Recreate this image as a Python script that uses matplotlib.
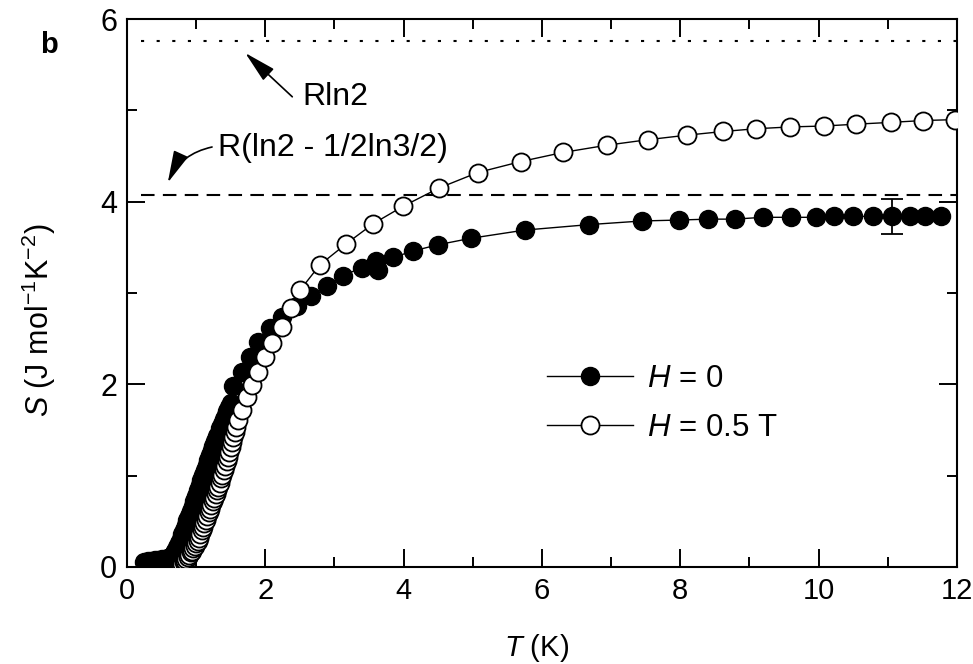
import numpy as np
import matplotlib
matplotlib.use('Agg')
import matplotlib.pyplot as plt

plt.rcParams['font.family'] = ['Liberation Sans', 'DejaVu Sans']
plt.rcParams['mathtext.fontset'] = 'custom'
plt.rcParams['mathtext.rm'] = 'Liberation Sans'
plt.rcParams['mathtext.it'] = 'Liberation Sans:italic'

# entropy S(T), H = 0
T_h0 = [0.25, 0.30, 0.35, 0.40, 0.45, 0.50, 0.55, 0.60, 0.625, 0.65,
        0.675, 0.70, 0.725, 0.75, 0.775, 0.80, 0.825, 0.85, 0.875, 0.90,
        0.925, 0.95, 0.975, 1.00, 1.025, 1.05, 1.075, 1.10, 1.125, 1.15,
        1.175, 1.20, 1.225, 1.25, 1.275, 1.30, 1.325, 1.35, 1.375, 1.40,
        1.425, 1.45, 1.475, 1.50, 1.53, 1.66, 1.78, 1.90, 2.07, 2.24,
        2.46, 2.66, 2.89, 3.12, 3.40, 3.60, 3.63, 3.85, 4.13, 4.50,
        4.97, 5.75, 6.68, 7.45, 7.98, 8.40, 8.79, 9.19, 9.60, 9.96,
        10.22, 10.50, 10.79, 11.06, 11.32, 11.54, 11.77]
S_h0 = [0.06, 0.07, 0.07, 0.08, 0.08, 0.09, 0.09, 0.10, 0.11, 0.12,
        0.15, 0.18, 0.22, 0.26, 0.31, 0.36, 0.41, 0.46, 0.51, 0.56,
        0.61, 0.67, 0.72, 0.78, 0.84, 0.90, 0.95, 1.01, 1.06, 1.12,
        1.17, 1.23, 1.28, 1.33, 1.38, 1.43, 1.47, 1.52, 1.57, 1.62,
        1.66, 1.71, 1.75, 1.80, 1.98, 2.14, 2.30, 2.46, 2.62, 2.74,
        2.86, 2.97, 3.08, 3.19, 3.28, 3.35, 3.25, 3.39, 3.46, 3.53,
        3.60, 3.69, 3.75, 3.79, 3.80, 3.81, 3.81, 3.83, 3.83, 3.83,
        3.84, 3.84, 3.84, 3.84, 3.84, 3.84, 3.84]

# entropy S(T), H = 0.5 T
T_h05 = [0.78, 0.80, 0.82, 0.84, 0.86, 0.88, 0.90, 0.92, 0.94, 0.96,
         0.98, 1.00, 1.02, 1.04, 1.06, 1.08, 1.10, 1.12, 1.14, 1.16,
         1.18, 1.20, 1.22, 1.24, 1.26, 1.28, 1.30, 1.32, 1.34, 1.36,
         1.38, 1.40, 1.42, 1.44, 1.46, 1.48, 1.50, 1.52, 1.54, 1.56,
         1.58, 1.61, 1.66, 1.73, 1.81, 1.89, 2.00, 2.10, 2.24, 2.37,
         2.50, 2.79, 3.17, 3.56, 3.99, 4.51, 5.07, 5.69, 6.30, 6.94,
         7.53, 8.10, 8.62, 9.09, 9.59, 10.08, 10.54, 11.05, 11.51, 11.97]
S_h05 = [0.01, 0.03, 0.05, 0.07, 0.09, 0.11, 0.13, 0.16, 0.18, 0.21,
         0.23, 0.26, 0.29, 0.32, 0.36, 0.40, 0.44, 0.48, 0.52, 0.56,
         0.60, 0.64, 0.68, 0.72, 0.76, 0.80, 0.84, 0.88, 0.92, 0.97,
         1.01, 1.06, 1.11, 1.16, 1.21, 1.26, 1.31, 1.37, 1.42, 1.48,
         1.53, 1.61, 1.72, 1.86, 1.99, 2.14, 2.30, 2.45, 2.63, 2.84,
         3.03, 3.31, 3.54, 3.76, 3.95, 4.15, 4.32, 4.44, 4.54, 4.62,
         4.68, 4.73, 4.77, 4.80, 4.82, 4.83, 4.85, 4.87, 4.89, 4.90]

# representative error bar on the H = 0 data
err_T = 11.06
err_S = 3.84
err_dS = 0.19

R = 8.314
S_rln2 = R * np.log(2)
S_half = R * (np.log(2) - 0.5 * np.log(1.5))

fig = plt.figure(figsize=(9.73, 6.64), dpi=100)
ax = fig.add_axes([0.1305, 0.1461, 0.853, 0.825])

ax.axhline(S_rln2, xmin=0.017, xmax=1, color='k', lw=1.5, ls=(0, (1.5, 6)))
ax.axhline(S_half, xmin=0.017, xmax=1, color='k', lw=1.5, ls=(0, (6.5, 4)))

ax.plot(T_h0, S_h0, '-o', color='k', lw=1.0, ms=13, mfc='k', mec='k',
        label='$H$ = 0', zorder=3)
ax.plot(T_h05, S_h05, '-o', color='k', lw=1.0, ms=13, mfc='white', mec='k',
        mew=1.3, label='$H$ = 0.5 T', zorder=4)
ax.errorbar(err_T, err_S, yerr=err_dS, fmt='none', ecolor='k', elinewidth=1.3,
            capsize=8, capthick=1.3, zorder=5)

# labels for the two entropy limits, arrows drawn separately
arrow = '-|>,head_length=0.9,head_width=0.22'
ax.text(2.54, 5.15, 'Rln2', fontsize=23, va='center', ha='left')
ax.annotate('', xy=(1.71, 5.63), xytext=(2.39, 5.15),
            arrowprops=dict(arrowstyle=arrow, color='k', lw=1.2,
                            mutation_scale=22, shrinkA=0, shrinkB=0))
ax.text(1.32, 4.59, 'R(ln2 - 1/2ln3/2)', fontsize=23, va='center', ha='left')
ax.annotate('', xy=(0.59, 4.21), xytext=(1.23, 4.60),
            arrowprops=dict(arrowstyle=arrow, color='k', lw=1.2,
                            mutation_scale=22, shrinkA=0, shrinkB=0,
                            connectionstyle='arc3,rad=0.25'))

ax.set_xlim(0, 12)
ax.set_ylim(0, 6)
ax.set_xticks(np.arange(0, 13, 2))
ax.set_xticks(np.arange(0, 13, 1), minor=True)
ax.set_yticks(np.arange(0, 7, 2))
ax.set_yticks(np.arange(0, 7, 1), minor=True)
ax.tick_params(which='both', direction='in', top=True, right=True, width=1.4)
ax.tick_params(which='major', length=13, pad=7)
ax.tick_params(which='minor', length=7)
ax.tick_params(axis='x', labelsize=21)
ax.tick_params(axis='y', labelsize=22)
for sp in ax.spines.values():
    sp.set_linewidth(1.5)

ax.set_xlabel('$T$ (K)', fontsize=21)
ax.xaxis.set_label_coords(0.494, -0.118)
ax.set_ylabel('$S$ (J mol$^{-1}$K$^{-2}$)', fontsize=22)
ax.yaxis.set_label_coords(-0.083, 0.45)

ax.legend(loc='upper left', bbox_to_anchor=(0.506, 0.37), frameon=False,
          fontsize=22.5, handlelength=2.75, handletextpad=0.45, labelspacing=0.6,
          borderpad=0, borderaxespad=0)

fig.text(0.041, 0.932, 'b', fontsize=21, fontweight='bold', ha='left', va='center')

fig.savefig('out.png', dpi=100)
